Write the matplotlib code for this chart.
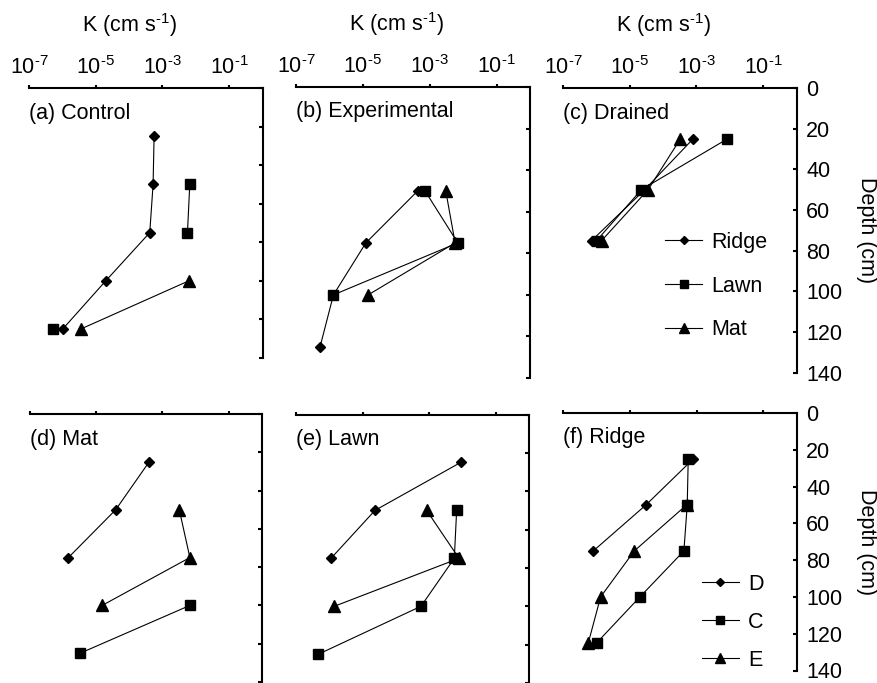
import numpy as np
import matplotlib
matplotlib.use("Agg")
import matplotlib.pyplot as plt
from matplotlib.ticker import FixedLocator, NullLocator, FuncFormatter, NullFormatter

plt.rcParams['font.family'] = ['Liberation Sans', 'DejaVu Sans']
plt.rcParams['mathtext.fontset'] = 'custom'
plt.rcParams['mathtext.rm'] = 'Liberation Sans'
plt.rcParams['mathtext.it'] = 'Liberation Sans:italic'
plt.rcParams['mathtext.bf'] = 'Liberation Sans:bold'
FS = 15.5
plt.rcParams['font.size'] = FS

nan = np.nan
# sampling depths (cm)
depths = [25, 50, 75, 100, 125]

# log10 of K (cm s-1), per panel and series
# Top row: by treatment, series = site type
a_ridge = [-3.25, -3.28, -3.38, -4.70, -5.99]
a_lawn = [nan, -2.18, -2.25, nan, -6.29]
a_mat = [nan, nan, nan, -2.21, -5.45]

b_ridge = [nan, -3.36, -4.91, -5.88, -6.28]
b_lawn = [nan, -3.14, -2.16, -5.88, nan]
b_mat = [nan, -2.52, -2.24, -4.84, nan]

c_ridge = [-3.10, -4.55, -6.14, nan, nan]
c_lawn = [-2.07, -4.65, -5.99, nan, nan]
c_mat = [-3.48, -4.45, -5.84, nan, nan]

# Bottom row: by site type, series = treatment (D, C, E)
d_D = [-3.40, -4.41, -5.84, nan, nan]
d_C = [nan, nan, nan, -2.17, -5.49]
d_E = [nan, -2.49, -2.17, -4.82, nan]

e_D = [-2.06, -4.63, -5.95, nan, nan]
e_C = [nan, -2.18, -2.25, -3.25, -6.33]
e_E = [nan, -3.08, -2.11, -5.85, nan]

f_D = [-3.10, -4.52, -6.10, nan, nan]
f_C = [-3.25, -3.28, -3.38, -4.70, -6.00]
f_E = [nan, -3.30, -4.87, -5.88, -6.25]

panel_titles = ["(a) Control", "(b) Experimental", "(c) Drained",
                "(d) Mat", "(e) Lawn", "(f) Ridge"]
top_labels = ["Ridge", "Lawn", "Mat"]
bottom_labels = ["D", "C", "E"]
panel_data = [
    [a_ridge, a_lawn, a_mat],
    [b_ridge, b_lawn, b_mat],
    [c_ridge, c_lawn, c_mat],
    [d_D, d_C, d_E],
    [e_D, e_C, e_E],
    [f_D, f_C, f_E],
]
x_ticks = [1e-7, 1e-5, 1e-3, 1e-1]
y_ticks = [0, 20, 40, 60, 80, 100, 120, 140]


def sci_label(v, pos):
    e = int(round(np.log10(v)))
    return r"10$^{\text{%d}}$" % e


W, H = 877, 683
fig = plt.figure(figsize=(W / 100, H / 100), dpi=100)

# panel boxes in pixels: (x_left, x_right, y_top, y_bottom)
boxes = [
    (29, 262.5, 88, 358),
    (296, 530, 87, 378),
    (563, 796.5, 88, 372.7),
    (30, 261.7, 414, 682),
    (296, 529.3, 414.5, 683),
    (563.3, 796.5, 413, 670.5),
]
markers = ['D', 's', '^']
msizes = [4.8, 7, 8]

for i, (x0, x1, y0, y1) in enumerate(boxes):
    ax = fig.add_axes([x0 / W, 1 - y1 / H, (x1 - x0) / W, (y1 - y0) / H])
    ax.set_xscale('log')
    ax.set_xlim(1e-7, 1)
    ax.set_ylim(140, 0)
    for s in ['left', 'bottom']:
        ax.spines[s].set_visible(False)
    for s in ['top', 'right']:
        ax.spines[s].set_linewidth(1.5)
    ax.xaxis.tick_top()
    ax.yaxis.tick_right()
    ax.xaxis.set_major_locator(FixedLocator(x_ticks))
    ax.xaxis.set_minor_locator(NullLocator())
    ax.yaxis.set_major_locator(FixedLocator(y_ticks))
    ax.tick_params(axis='x', direction='out', length=2.5, width=1.5, pad=4, labelsize=FS)
    ax.tick_params(axis='y', direction='in', length=3, width=1.5, pad=7, labelsize=FS)
    if i < 3:
        ax.xaxis.set_major_formatter(FuncFormatter(sci_label))
        ax.annotate(r"K (cm s$^{\text{-1}}$)", xy=(1e-4, 1), xycoords=('data', 'axes fraction'),
                    xytext=(0, 63), textcoords='offset pixels', ha='center', va='center',
                    fontsize=FS)
    else:
        ax.xaxis.set_major_formatter(NullFormatter())
    if i in (2, 5):
        ax.yaxis.set_label_position('right')
        ax.set_ylabel("Depth (cm)", rotation=270, va='bottom', labelpad=10, fontsize=FS)
    else:
        ax.yaxis.set_major_formatter(NullFormatter())

    labels = top_labels if i < 3 else bottom_labels
    handles = []
    for j, series in enumerate(panel_data[i]):
        k = 10.0 ** np.array(series, dtype=float)
        h, = ax.plot(k, depths, color='black', lw=0.8, marker=markers[j],
                     ms=msizes[j], mfc='black', mec='black', clip_on=False,
                     label=labels[j])
        handles.append(h)

    ax.annotate(panel_titles[i], xy=(0, 1), xycoords='axes fraction',
                xytext=(0, -25), textcoords='offset pixels', ha='left', va='center',
                fontsize=FS)

    if i == 2:
        ax.legend(handles=handles, loc='upper left', bbox_to_anchor=(665 / W, 1 - 231.7 / H),
                  bbox_transform=fig.transFigure, frameon=False, borderpad=0,
                  borderaxespad=0, handlelength=1.72, handletextpad=0.42,
                  labelspacing=1.06, markerscale=0.85, fontsize=FS)
    if i == 5:
        ax.legend(handles=handles, loc='upper left', bbox_to_anchor=(701.7 / W, 1 - 574 / H),
                  bbox_transform=fig.transFigure, frameon=False, borderpad=0,
                  borderaxespad=0, handlelength=1.72, handletextpad=0.42,
                  labelspacing=0.78, markerscale=0.85, fontsize=FS)

fig.savefig("out.png", dpi=100)
